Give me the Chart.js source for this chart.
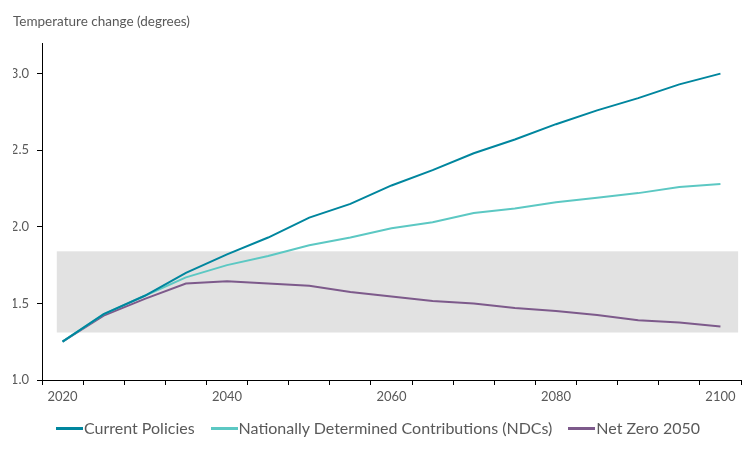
<!DOCTYPE html>
<html>
<head>
<meta charset="utf-8">
<script src="https://cdn.jsdelivr.net/npm/chart.js@4.4.1/dist/chart.umd.min.js"></script>
<style>
  html, body { margin: 0; padding: 0; background: #fff; }
  #wrap { position: relative; width: 756px; height: 450px; }
  #legend { position: absolute; left: 0; right: 0; top: 418px; display: flex; justify-content: center;
    font-family: Lato, sans-serif; font-size: 16px; color: #595959; line-height: 20px; }
  .item { display: flex; align-items: center; margin: 0 8px; }
  .swatch { width: 27px; height: 3px; margin-right: 1px; }
</style>
</head>
<body>
<div id="wrap"><canvas id="tempchart"></canvas><div id="legend"></div></div>
<script>
// years every 5 from 2020 to 2100
var years = ["2020","2025","2030","2035","2040","2045","2050","2055","2060","2065","2070","2075","2080","2085","2090","2095","2100"];
var currentPolicies = [1.25, 1.43, 1.55, 1.70, 1.82, 1.93, 2.06, 2.15, 2.27, 2.37, 2.48, 2.57, 2.67, 2.76, 2.84, 2.93, 3.00];
var ndcs            = [1.25, 1.43, 1.55, 1.67, 1.75, 1.81, 1.88, 1.93, 1.99, 2.03, 2.09, 2.12, 2.16, 2.19, 2.22, 2.26, 2.28];
var netZero         = [1.25, 1.42, 1.53, 1.63, 1.645, 1.63, 1.615, 1.575, 1.545, 1.515, 1.50, 1.47, 1.45, 1.425, 1.39, 1.375, 1.35];
var yTicks = [1.0, 1.5, 2.0, 2.5, 3.0];
// shaded range (degrees)
var bandRange = [1.31, 1.84];

var textColor = "#595959";
Chart.defaults.font.family = "Lato, 'Noto Sans', sans-serif";
Chart.defaults.color = textColor;

var bandPlugin = {
	id: "band",
	beforeDatasetsDraw: function(chart){
		var x = chart.scales.x, y = chart.scales.y, ctx = chart.ctx;
		var left = x.getPixelForValue(-0.14);
		var right = x.getPixelForValue(years.length - 1 + 0.43);
		var top = y.getPixelForValue(bandRange[1]);
		var bottom = y.getPixelForValue(bandRange[0]);
		ctx.save();
		ctx.fillStyle = "#e2e2e2";
		ctx.fillRect(left, top, right - left, bottom - top);
		ctx.restore();
	}
};

function line(label, data, color){
	return {
		label: label,
		data: data,
		borderColor: color,
		backgroundColor: color,
		borderWidth: 2,
		pointRadius: 0,
		tension: 0
	};
}

var ctx = document.getElementById("tempchart");
var chart = new Chart(ctx, {
	type: "line",
	data: {
		labels: years,
		datasets: [
			line("Current Policies", currentPolicies, "#00869e"),
			line("Nationally Determined Contributions (NDCs)", ndcs, "#5cc8c3"),
			line("Net Zero 2050", netZero, "#7d5a8b")
		]
	},
	options: {
		responsive: true,
		maintainAspectRatio: false,
		animation: false,
		layout: { padding: { left: 13, right: 15, top: 14, bottom: 38 } },
		plugins: {
			title: {
				display: true,
				text: "Temperature change (degrees)",
				align: "start",
				color: textColor,
				font: { size: 13.5, weight: "normal" },
				padding: { top: 0, bottom: 12.8 }
			},
			legend: { display: false },
			tooltip: { enabled: false }
		},
		scales: {
			x: {
				offset: true,
				grid: { offset: true, drawOnChartArea: false, color: "#000", tickLength: 5 },
				border: { color: "#000", width: 1 },
				ticks: {
					autoSkip: false,
					maxRotation: 0,
					padding: 4,
					font: { size: 13 },
					callback: function(v, i){ return i % 4 === 0 ? years[i] : ""; }
				},
				afterFit: function(s){ s.height = 32; }
			},
			y: {
				min: 1.0,
				max: 3.2,
				afterBuildTicks: function(s){
					s.ticks = yTicks.map(function(v){ return { value: v }; });
				},
				grid: { drawOnChartArea: false, color: "#000", tickLength: 5 },
				border: { color: "#000", width: 1 },
				ticks: {
					padding: 8,
					font: { size: 13 },
					callback: function(v){ return Number(v).toFixed(1); }
				},
				afterFit: function(s){ s.width = 29; }
			}
		}
	},
	plugins: [bandPlugin]
});

// legend built from the chart's datasets
var legend = document.getElementById("legend");
chart.data.datasets.forEach(function(ds){
	var item = document.createElement("div");
	item.className = "item";
	var sw = document.createElement("span");
	sw.className = "swatch";
	sw.style.background = ds.borderColor;
	var txt = document.createElement("span");
	txt.textContent = ds.label;
	item.appendChild(sw);
	item.appendChild(txt);
	legend.appendChild(item);
});
</script>
</body>
</html>
